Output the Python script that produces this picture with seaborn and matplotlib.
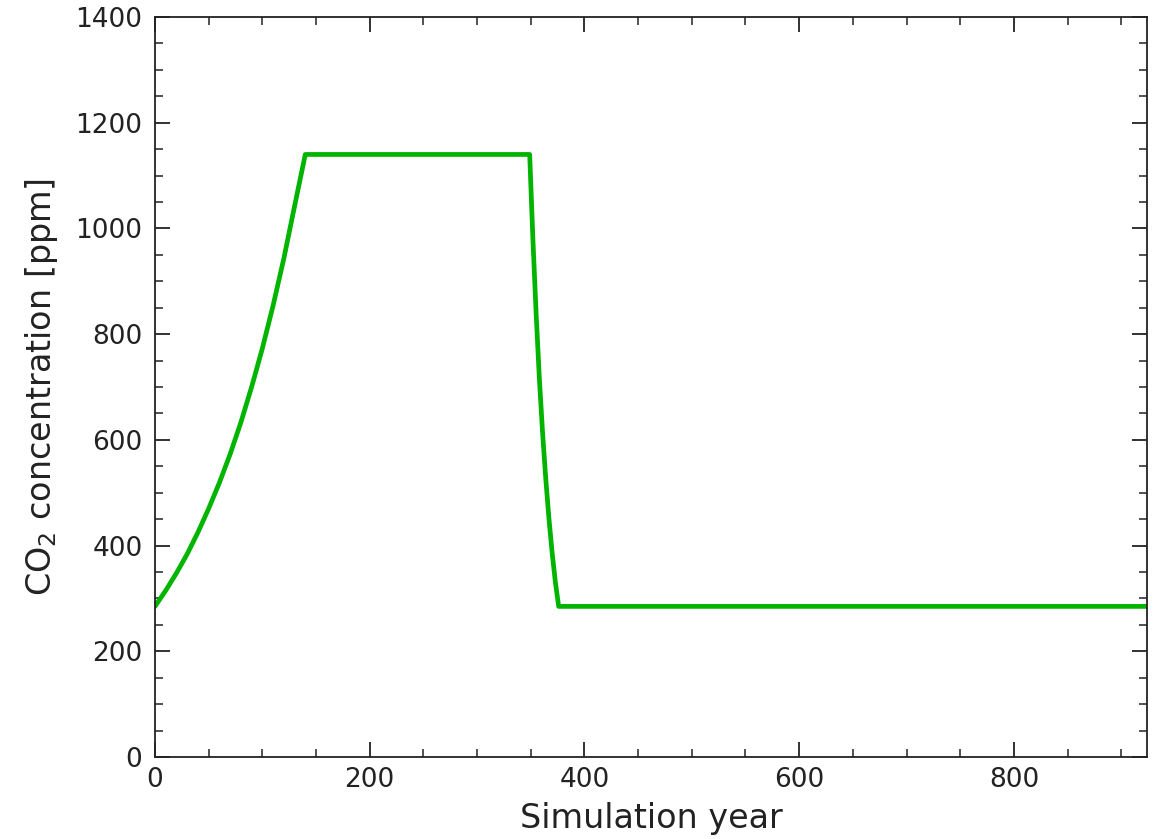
import matplotlib
matplotlib.use("Agg")
import matplotlib.pyplot as plt
from matplotlib.ticker import MultipleLocator
import seaborn as sns
import pandas as pd

years = [0, 10, 20, 30, 40, 50, 60, 70, 80, 90, 100, 110, 120, 130, 140,
         349, 352, 355, 358, 361, 364, 367, 370, 373, 376, 924]
co2 = [285, 315, 348, 384, 425, 470, 519, 573, 633, 700, 773, 854, 943, 1042, 1140,
       1140, 980, 840, 717, 614, 526, 450, 385, 330, 285, 285]

df = pd.DataFrame({"year": years, "co2": co2})

sns.set_style("ticks")
plt.rcParams["font.family"] = ["DejaVu Sans"]

fig = plt.figure(figsize=(11.6, 8.39), dpi=100)
ax = fig.add_axes([0.1336, 0.0977, 0.9888 - 0.1336, 0.9797 - 0.0977])
sns.lineplot(data=df, x="year", y="co2", ax=ax, color="#00b400", linewidth=3.4, sort=False)

ax.set_xlim(0, 924)
ax.set_ylim(0, 1400)
ax.xaxis.set_major_locator(MultipleLocator(200))
ax.xaxis.set_minor_locator(MultipleLocator(50))
ax.yaxis.set_major_locator(MultipleLocator(200))
ax.yaxis.set_minor_locator(MultipleLocator(50))
ax.tick_params(which="both", direction="in", top=True, right=True, colors="#222222", labelcolor="#222222")
ax.tick_params(which="major", length=11, width=1.3, labelsize=19)
ax.tick_params(axis="x", which="major", pad=7)
ax.tick_params(axis="y", which="major", pad=9)
ax.tick_params(which="minor", length=5.5, width=1.1)
for s in ax.spines.values():
    s.set_linewidth(1.3)
    s.set_color("#222222")
    s.set_visible(True)

ax.set_xlabel("Simulation year", fontsize=24, color="#222222", labelpad=7)
ax.set_ylabel("CO$_2$ concentration [ppm]", fontsize=24, color="#222222", labelpad=11)

fig.savefig("out.png", dpi=100)
